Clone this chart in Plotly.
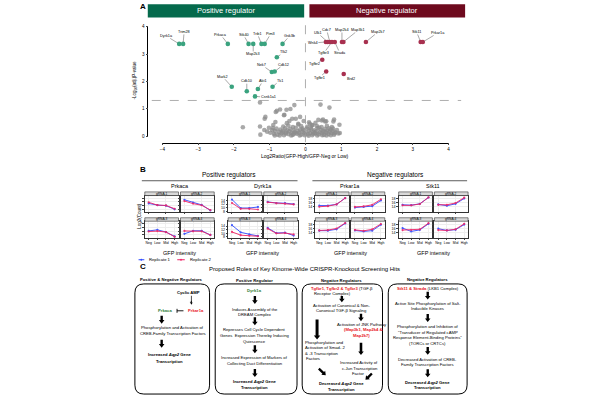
import math
import plotly.graph_objects as go

W, H = 600, 400
FONT = "Liberation Sans, Arial, sans-serif"

# ---------------- Panel A data (volcano) ----------------
green_genes = ["Dyrk1a", "Trim28", "Prkaca", "Stk40", "Map2k3", "Trib1", "Pim3", "Gsk3b",
               "Tlk2", "Nek7", "Cdk12", "Mark2", "Cdk10", "Akt1", "Tk1", "Csnk1a1"]
green_x = [-3.53, -3.42, -2.17, -1.59, -1.46, -1.23, -1.14, -0.64,
           -0.80, -0.94, -0.86, -2.06, -1.64, -1.33, -0.92, -1.41]
green_y = [3.37, 3.37, 3.37, 3.37, 3.37, 3.37, 3.37, 3.37,
           2.88, 2.34, 2.36, 1.80, 1.64, 1.72, 1.80, 1.45]

red_genes = ["Wnk4", "Ulk1", "Cdc7", "Tgfbr3", "Strada", "Map2k4", "Map3k1", "Map2k7",
             "Stk11", "Prkar1a", "Tgfbr2", "Tgfbr1", "Brd2"]
red_x = [0.57, 0.62, 0.68, 0.74, 0.82, 1.02, 1.06, 1.69, 3.22, 3.28, 0.47, 0.58, 1.07]
red_y = [3.44, 3.44, 3.44, 3.44, 3.44, 3.44, 3.44, 3.44, 3.44, 3.44, 2.79, 2.36, 2.27]

grey_x = [-1.27, -0.31, 0.42, 0.67, -0.80, -0.71, -0.53, -0.42, -0.59, -1.12, -1.14, -0.37,
          -0.27, -0.84, -1.27, -1.75, -0.52, 0.36, 0.49, 0.58, 0.80, 0.95, -0.83, -0.60,
          -1.26, -1.07, -0.91, 0.46, 0.55, 0.78, 0.96, 0.77, -0.45, -0.20, 0.20, 0.10, -0.15,
          -0.98, -0.93, -0.88, -0.85, -0.81, -0.78, -0.74, -0.70, -0.67, -0.63, -0.60, -0.57,
          -0.54, -0.51, -0.48, -0.45, -0.42, -0.39, -0.36, -0.33, -0.30, -0.27, -0.24, -0.21,
          -0.18, -0.15, -0.12, -0.09, -0.06, -0.03, 0.01, 0.04, 0.07, 0.10, 0.13, 0.16, 0.19,
          0.22, 0.25, 0.28, 0.31, 0.34, 0.37, 0.40, 0.43, 0.46, 0.49, 0.52, 0.55, 0.58, 0.61,
          0.64, 0.67, 0.70, 0.73, 0.76, 0.80, 0.84, 0.88, 0.92, -0.62, -0.48, -0.35, -0.12,
          0.05, 0.18, 0.32, 0.45, 0.60, -0.90, -0.20, 0.12, 0.28, -0.05, -1.15, -1.02,
          -0.72, -0.55, -0.40, -0.28, -0.16, -0.02, 0.09, 0.21, 0.33, 0.47, 0.59, 0.71, 0.82,
          -0.86, 0.26, 0.53, -0.33, -0.64, 0.38, 0.66, 0.74, 0.15, -0.08]
grey_y = [1.23, 1.13, 1.15, 1.04, 0.92, 0.97, 0.96, 0.99, 0.78, 0.70, 0.63, 0.63,
          0.63, 0.51, 0.35, 0.32, 0.47, 0.59, 0.60, 0.54, 0.60, 0.41, 0.88, 0.76,
          0.05, 0.16, 0.29, 0.57, 0.53, 0.53, 0.11, 0.27, 0.55, 0.45, 0.40, 0.50, 0.70,
          0.12, 0.22, 0.08, 0.18, 0.27, 0.05, 0.15, 0.24, 0.10, 0.19, 0.03, 0.28,
          0.13, 0.21, 0.07, 0.17, 0.26, 0.11, 0.04, 0.20, 0.14, 0.30, 0.08, 0.18,
          0.12, 0.24, 0.05, 0.16, 0.22, 0.09, 0.13, 0.27, 0.06, 0.19, 0.11, 0.25, 0.03,
          0.15, 0.21, 0.09, 0.17, 0.29, 0.06, 0.14, 0.23, 0.10, 0.19, 0.04, 0.26, 0.12, 0.20,
          0.07, 0.16, 0.24, 0.10, 0.18, 0.05, 0.14, 0.22, 0.09, 0.35, 0.38, 0.33, 0.36,
          0.34, 0.39, 0.36, 0.33, 0.37, 0.40, 0.42, 0.45, 0.48, 0.55, 0.22, 0.30,
          0.02, 0.09, 0.02, 0.12, 0.02, 0.03, 0.01, 0.08, 0.02, 0.03, 0.02, 0.03, 0.10,
          0.02, 0.12, 0.15, 0.07, 0.14, 0.31, 0.28, 0.33, 0.30, 0.27]

volcano_xticks = [-4, -3, -2, -1, 0, 1, 2, 3, 4]
volcano_yticks = [0, 1, 2, 3, 4]
sig_threshold = 1.3

# ---------------- Panel B data (Log2 counts) ----------------
stages = ["Neg", "Low", "Mid", "High"]
grnas = ["gRNA-1", "gRNA-2", "gRNA-3", "gRNA-4"]
b_genes = ["Prkaca", "Dyrk1a", "Prkar1a", "Stk11"]

prkaca_rep1 = [[11.2, 10.3, 10.0, 8.0], [13.2, 11.6, 10.4, 7.4],
               [10.2, 10.8, 9.6, 7.2], [8.6, 10.3, 10.3, 8.0]]
prkaca_rep2 = [[11.8, 10.3, 10.1, 8.3], [12.5, 11.1, 10.2, 7.6],
               [9.9, 10.1, 9.6, 7.0], [10.2, 10.0, 10.0, 8.0]]
dyrk1a_rep1 = [[14.5, 9.8, 9.8, 10.4], [13.2, 12.6, 12.5, 12.0],
               [14.5, 10.6, 9.5, 8.6], [13.0, 10.2, 10.4, 8.8]]
dyrk1a_rep2 = [[12.6, 9.4, 9.4, 9.0], [13.0, 12.4, 12.2, 11.8],
               [10.8, 9.0, 8.7, 8.4], [12.6, 10.0, 10.2, 9.4]]
prkar1a_rep1 = [[14.6, 14.6, 15.2, 18.4], [13.6, 13.9, 14.3, 17.2],
                [14.9, 14.9, 15.6, 18.6], [15.0, 14.5, 14.9, 17.9]]
prkar1a_rep2 = [[14.0, 14.3, 15.2, 18.4], [13.9, 14.2, 15.0, 17.8],
                [15.0, 15.2, 16.0, 18.8], [15.3, 14.8, 15.6, 18.3]]
stk11_rep1 = [[15.0, 14.8, 15.5, 18.7], [15.2, 14.5, 15.5, 18.2],
              [16.2, 14.5, 15.3, 18.4], [15.9, 15.0, 15.4, 18.0]]
stk11_rep2 = [[14.7, 14.7, 15.4, 18.8], [15.0, 15.0, 15.9, 18.6],
              [15.2, 15.3, 15.6, 18.7], [15.2, 15.0, 15.6, 18.4]]

b_data = {"Prkaca": (prkaca_rep1, prkaca_rep2), "Dyrk1a": (dyrk1a_rep1, dyrk1a_rep2),
          "Prkar1a": (prkar1a_rep1, prkar1a_rep2), "Stk11": (stk11_rep1, stk11_rep2)}
b_yrange = {"Prkaca": [6.5, 15.5], "Dyrk1a": [7.6, 16.7], "Prkar1a": [11.3, 19.7], "Stk11": [11.3, 19.7]}
b_yticks = {"Prkaca": [8, 10, 12, 14], "Dyrk1a": [8, 10, 12, 14], "Prkar1a": [14, 16, 18], "Stk11": [14, 16, 18]}
b_show_ylabels = {"Prkaca": False, "Dyrk1a": True, "Prkar1a": True, "Stk11": True}

# ---------------- styles ----------------
GREEN_PT = "#3aa37f"
RED_PT = "#a8304f"
GREY_PT = "rgba(140,140,140,0.75)"
BLUE = "#2f4bff"
PINK = "#ee2466"
HDR_GREEN = "#056a4c"
HDR_RED = "#6e0a1e"
TXT_GREEN = "#2e7d32"
TXT_RED = "#e8151b"

def X(p):
    return p / W

def Y(p):
    return 1 - p / H

shapes = []
annotations = []

def text(x, y, s, size, color="black", bold=False, anchor="center", angle=0):
    annotations.append(dict(x=X(x), y=Y(y), xref="paper", yref="paper",
                            text=f"<b>{s}</b>" if bold else s, showarrow=False,
                            font=dict(size=size, color=color, family=FONT),
                            xanchor=anchor, yanchor="middle", textangle=angle, borderpad=0))

def rect(x0, y0, x1, y1, fill, line_color=None, lw=0):
    shapes.append(dict(type="rect", xref="paper", yref="paper", x0=X(x0), x1=X(x1),
                       y0=Y(y1), y1=Y(y0), fillcolor=fill,
                       line=dict(width=lw, color=line_color or fill)))

def line(x0, y0, x1, y1, color="black", lw=1, dash="solid"):
    shapes.append(dict(type="line", xref="paper", yref="paper", x0=X(x0), x1=X(x1),
                       y0=Y(y0), y1=Y(y1), line=dict(color=color, width=lw, dash=dash)))

def P(a, b):
    return f"{X(a):.5f},{Y(b):.5f}"

def rrect(x0, y0, x1, y1, r=9, lw=1):
    path = (f"M {P(x0 + r, y0)} L {P(x1 - r, y0)} Q {P(x1, y0)} {P(x1, y0 + r)} "
            f"L {P(x1, y1 - r)} Q {P(x1, y1)} {P(x1 - r, y1)} L {P(x0 + r, y1)} "
            f"Q {P(x0, y1)} {P(x0, y1 - r)} L {P(x0, y0 + r)} Q {P(x0, y0)} {P(x0 + r, y0)} Z")
    shapes.append(dict(type="path", xref="paper", yref="paper", path=path,
                       line=dict(color="black", width=lw), fillcolor="rgba(0,0,0,0)"))

def block_arrow(x1, y1, x2, y2, shaft=2.4, head_w=5.6, head_l=3.6):
    dx, dy = x2 - x1, y2 - y1
    L = math.hypot(dx, dy)
    ux, uy = dx / L, dy / L
    nx, ny = -uy, ux
    bx, by = x2 - ux * head_l, y2 - uy * head_l
    pts = [(x1 + nx * shaft / 2, y1 + ny * shaft / 2), (bx + nx * shaft / 2, by + ny * shaft / 2),
           (bx + nx * head_w / 2, by + ny * head_w / 2), (x2, y2),
           (bx - nx * head_w / 2, by - ny * head_w / 2), (bx - nx * shaft / 2, by - ny * shaft / 2),
           (x1 - nx * shaft / 2, y1 - ny * shaft / 2)]
    path = "M " + " L ".join(P(a, b) for a, b in pts) + " Z"
    shapes.append(dict(type="path", xref="paper", yref="paper", path=path,
                       fillcolor="black", line=dict(width=0)))

fig = go.Figure()

# ================= Panel A =================
fig.add_trace(go.Scatter(x=grey_x, y=grey_y, mode="markers", xaxis="x", yaxis="y",
                         marker=dict(size=4.6, color=GREY_PT, line=dict(width=0)),
                         cliponaxis=False, hoverinfo="skip"))
fig.add_trace(go.Scatter(x=green_x, y=green_y, mode="markers", xaxis="x", yaxis="y",
                         marker=dict(size=4.6, color=GREEN_PT, line=dict(width=0)),
                         cliponaxis=False, text=green_genes))
fig.add_trace(go.Scatter(x=red_x, y=red_y, mode="markers", xaxis="x", yaxis="y",
                         marker=dict(size=4.6, color=RED_PT, line=dict(width=0)),
                         cliponaxis=False, text=red_genes))

label_offsets = {
    "Dyrk1a": (-13, -8), "Trim28": (1, -12), "Prkaca": (-7, -9), "Stk40": (-5, -9),
    "Map2k3": (0, 10), "Trib1": (-4, -10), "Pim3": (6, -10), "Gsk3b": (7, -8),
    "Tlk2": (7, -5), "Nek7": (-10, -7), "Cdk12": (9, -7), "Mark2": (-9, -10),
    "Cdk10": (0, -10), "Akt1": (5, -8), "Tk1": (7, -6), "Csnk1a1": (13, 1),
    "Wnk4": (-13, 1), "Ulk1": (-10, -9), "Cdc7": (-3, -12), "Tgfbr3": (-8, 11),
    "Strada": (5, 11), "Map2k4": (0, -12), "Map3k1": (15, -12), "Map2k7": (12, -10),
    "Stk11": (-4, -10), "Prkar1a": (15, -9), "Tgfbr2": (-8, 4), "Tgfbr1": (-7, 6),
    "Brd2": (7, 5),
}
for genes, xs, ys in ((green_genes, green_x, green_y), (red_genes, red_x, red_y)):
    for g, gx, gy in zip(genes, xs, ys):
        ax, ay = label_offsets[g]
        annotations.append(dict(x=gx, y=gy, xref="x", yref="y", text=g, showarrow=True,
                                arrowhead=0, arrowwidth=0.5, arrowcolor="#555", standoff=2,
                                ax=ax, ay=ay, font=dict(size=3.8, color="black", family=FONT),
                                borderpad=0))

# header boxes
rect(146, 2.3, 303.7, 15.7, HDR_GREEN)
rect(309, 2.3, 466, 15.7, HDR_RED)
text(225, 9, "Positive regulator", 7.5, color="white")
text(387.5, 9, "Negative regulator", 7.5, color="white")
text(141, 5, "A", 8, bold=True)

# threshold lines
shapes.append(dict(type="line", xref="paper", yref="y", x0=X(150), x1=X(462),
                   y0=sig_threshold, y1=sig_threshold,
                   line=dict(color="#9a9a9a", width=0.8, dash="dash")))
shapes.append(dict(type="line", xref="x", yref="paper", x0=0, x1=0, y0=Y(142), y1=Y(16),
                   line=dict(color="#9a9a9a", width=0.8, dash="dash")))

text(305, 155.8, "Log2Ratio(GFP-High/GFP-Neg or Low)", 5.0)
text(133.5, 79, "-Log<sub>10</sub>(adj.)P-value", 4.5, angle=-90)

layout_axes = {
    "xaxis": dict(domain=[X(160.7), X(449.3)], range=[-4, 4], anchor="free", position=Y(142.3),
                  tickvals=volcano_xticks, ticks="outside", ticklen=2, tickwidth=0.8,
                  showline=True, linecolor="black", linewidth=0.9, showgrid=False,
                  zeroline=False, tickfont=dict(size=4.6, family=FONT)),
    "yaxis": dict(domain=[Y(135.7), Y(25)], range=[0, 4], anchor="free", position=X(145.7),
                  tickvals=volcano_yticks, ticks="outside", ticklen=2, tickwidth=0.8,
                  showline=True, linecolor="black", linewidth=0.9, showgrid=False,
                  zeroline=False, tickfont=dict(size=4.6, family=FONT)),
}

# ================= Panel B =================
text(141, 170, "B", 8, bold=True)
text(228, 174.7, "Positive regulators", 6.5)
text(396, 174.7, "Negative regulators", 6.5)
line(140, 181, 297, 181, color="#333", lw=0.8)
line(312, 181, 468, 181, color="#333", lw=0.8)

gene_x0 = {"Prkaca": 143, "Dyrk1a": 227, "Prkar1a": 315, "Stk11": 399}
PW, GAP = 34, 2
rows = [(192.3, 196.0, 212.7), (218.5, 222.0, 238.7)]

idx = 2
for gene in b_genes:
    gx0 = gene_x0[gene]
    reps = b_data[gene]
    text(gx0 + (2 * PW + GAP) / 2, 186.7, gene, 5.5)
    text(gx0 + (2 * PW + GAP) / 2, 254.3, "GFP intensity", 5.5)
    for r in range(4):
        row, col = divmod(r, 2)
        px0 = gx0 + col * (PW + GAP)
        px1 = px0 + PW
        s_top, p_top, p_bot = rows[row]
        rect(px0, s_top, px1, p_top, "#d9d9d9", "#333", 0.6)
        text((px0 + px1) / 2, (s_top + p_top) / 2, grnas[r], 3.2)
        layout_axes[f"xaxis{idx}"] = dict(
            domain=[X(px0), X(px1)], anchor=f"y{idx}", type="category",
            categoryorder="array", categoryarray=stages, range=[-0.45, 3.45],
            showline=True, mirror=True, linecolor="#333", linewidth=0.8,
            ticks="outside", ticklen=1.5, tickwidth=0.5, tickangle=0,
            showticklabels=(row == 1), tickfont=dict(size=3.4, family=FONT),
            showgrid=True, gridcolor="#eeeeee", gridwidth=0.4, zeroline=False)
        layout_axes[f"yaxis{idx}"] = dict(
            domain=[Y(p_bot), Y(p_top)], anchor=f"x{idx}", range=b_yrange[gene],
            tickvals=b_yticks[gene], showline=True, mirror=True, linecolor="#333",
            linewidth=0.8, ticks="outside", ticklen=1.5, tickwidth=0.5,
            showticklabels=(col == 0 and b_show_ylabels[gene]),
            tickfont=dict(size=3.6, family=FONT),
            showgrid=True, gridcolor="#eeeeee", gridwidth=0.4, zeroline=False)
        for vals, colr in ((reps[0][r], BLUE), (reps[1][r], PINK)):
            fig.add_trace(go.Scatter(x=stages, y=vals, mode="lines+markers",
                                     xaxis=f"x{idx}", yaxis=f"y{idx}",
                                     line=dict(color=colr, width=1),
                                     marker=dict(size=2.2, color=colr), opacity=0.9,
                                     cliponaxis=False))
        idx += 1

text(137.5, 216, "Log2(Count)", 4.5, angle=-90)

# legend
line(136.7, 261, 142.5, 261, color=BLUE, lw=1)
shapes.append(dict(type="circle", xref="paper", yref="paper", x0=X(138.6), x1=X(140.4),
                   y0=Y(261.9), y1=Y(260.1), fillcolor=BLUE, line=dict(width=0)))
text(146, 261, "Replicate 1", 4.2, anchor="left")
line(175.7, 261, 183.3, 261, color=PINK, lw=1)
shapes.append(dict(type="circle", xref="paper", yref="paper", x0=X(178.6), x1=X(180.4),
                   y0=Y(261.9), y1=Y(260.1), fillcolor=PINK, line=dict(width=0)))
text(188, 261, "Replicate 2", 4.2, anchor="left")

# ================= Panel C =================
text(141, 268, "C", 8, bold=True)
text(304, 270.7, "Proposed Roles of Key Kinome-Wide CRISPR-Knockout Screening Hits", 6)

FS = 4.2
rrect(133, 285.5, 208.3, 397)
rrect(214, 285.5, 296.5, 397)
rrect(301.7, 285.5, 382.7, 397)
rrect(388.5, 285.5, 468, 397)

def red(s):
    return f"<span style='color:{TXT_RED}'>{s}</span>"

# Box 1
text(170, 281.5, "Positive & Negative Regulators", FS, bold=True)
text(187, 294, "Cyclic AMP", FS, bold=True)
line(190, 297.5, 190, 304, lw=0.7)
line(190, 304, 188.5, 304, lw=0.7)
block_arrow(190, 302.5, 190, 306.5, shaft=0.7, head_w=2.6, head_l=2.2)
text(163.3, 312.7, "Prkaca", FS, color=TXT_GREEN, bold=True)
text(194.5, 312.7, "Prkar1a", FS, color=TXT_RED, bold=True)
line(175.5, 312.7, 182, 312.7, lw=0.9)
line(175.5, 310.7, 175.5, 314.7, lw=0.9)
block_arrow(160, 317.7, 160, 325.7)
text(171, 330, "Phosphorylation and Activation of", FS)
text(171, 335.5, "CREB-Family Transcription Factors", FS)
block_arrow(160, 342, 160, 350)
text(168, 357.3, "Increased <i>Aqp2</i> Gene", FS, bold=True)
text(168, 364, "Transcription", FS, bold=True)

# Box 2
c2 = 254
text(c2, 282.3, "Positive Regulator", FS, bold=True)
text(c2, 292.3, "Dyrk1a", FS, color=TXT_GREEN, bold=True)
block_arrow(c2, 297.7, c2, 305.7)
text(c2, 311, "Induces Assembly of the", FS)
text(c2, 316.5, "DREAM Complex", FS)
block_arrow(c2, 319.3, c2, 327.3)
text(c2, 331.7, "Represses Cell Cycle Dependent", FS)
text(c2, 338, "Genes  Expression Thereby Inducing", FS)
text(c2, 344.3, "Quiescence", FS)
block_arrow(c2, 347.7, c2, 355.7)
text(c2, 360, "Increased Expression of Markers of", FS)
text(c2, 366.5, "Collecting Duct Differentiation", FS)
block_arrow(c2, 371.7, c2, 379.7)
text(c2, 384.3, "Increased <i>Aqp2</i> Gene", FS, bold=True)
text(c2, 390.7, "Transcription", FS, bold=True)

# Box 3
text(341, 282.3, "Negative Regulators", FS, bold=True)
text(310, 290, f"<b>{red('Tgfbr1, Tgfbr2 &amp; Tgfbr3')}</b> (TGF-β", FS, anchor="left")
text(313, 295.5, "Receptor Complex)", FS, anchor="left")
block_arrow(341.7, 297.8, 341.7, 304)
text(341.5, 306.9, "Activation of Canonical & Non-", FS)
text(341, 312.4, "Canonical TGF-β Signaling", FS)
block_arrow(361, 315.8, 361, 323.2)
text(362, 326.5, "Activation of JNK Pathway", FS)
text(364, 332, f"<b>{red('(Map3k1, Map2k4 &amp;')}</b>", FS)
text(362, 337.5, f"<b>{red('Map2k7)')}</b>", FS)
block_arrow(316.7, 321.5, 316.7, 341.8, shaft=3.0, head_w=6.5, head_l=4)
block_arrow(361, 345, 361, 357.5, shaft=2.6)
text(303.3, 344.5, "Phosphorylation and", FS, anchor="left")
text(303.3, 350, "Activation of Smad- 2", FS, anchor="left")
text(303.3, 355.7, "& -3 Transcription", FS, anchor="left")
text(305, 361.2, "Factors", FS, anchor="left")
text(359, 365.2, "Increased Activity of", FS)
text(360, 371, "c-Jun Transcription", FS)
text(358, 376.7, "Factor", FS)
block_arrow(318.5, 371.2, 325.5, 378)
block_arrow(372, 376.2, 365.5, 382.6)
text(341, 386.2, "Decreased <i>Aqp2</i> Gene", FS, bold=True)
text(341, 392.4, "Transcription", FS, bold=True)

# Box 4
c4 = 428.3
text(c4, 281.3, "Negative Regulators", FS, bold=True)
text(c4, 290, f"<b>{red('Stk11 &amp; Strada')}</b> (LKB1 Complex)", FS)
block_arrow(c4, 293.5, c4, 301.2)
text(c4, 305.4, "Active Site Phosphorylation of Salt-", FS)
text(c4, 310.8, "Inducible Kinases", FS)
block_arrow(c4, 316, c4, 324)
text(c4, 329, "Phosphorylation and Inhibition of", FS)
text(c4, 334.7, "\"Transducer of Regulated cAMP", FS)
text(c4, 340, "Response Element-Binding Proteins\"", FS)
text(c4, 345.4, "(TORCs or CRTCs)", FS)
block_arrow(c4, 349.3, c4, 357.3)
text(c4, 361.7, "Decreased Activation of CREB-", FS)
text(c4, 367.3, "Family Transcription Factors", FS)
block_arrow(c4, 372, c4, 380)
text(c4, 385, "Decreased <i>Aqp2</i> Gene", FS, bold=True)
text(c4, 390.8, "Transcription", FS, bold=True)

fig.update_layout(
    width=W, height=H, margin=dict(l=0, r=0, t=0, b=0),
    paper_bgcolor="white", plot_bgcolor="white", showlegend=False,
    font=dict(family=FONT, color="black"),
    shapes=shapes, annotations=annotations, **layout_axes,
)

fig.write_html("out.html")
